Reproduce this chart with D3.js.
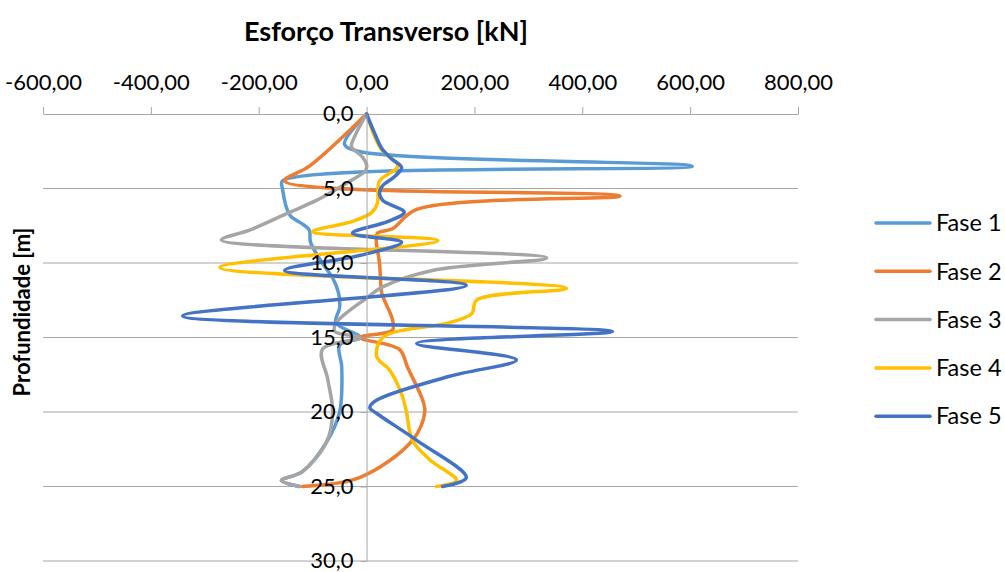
<!DOCTYPE html>
<html>
<head>
<meta charset="utf-8">
<script src="https://cdn.jsdelivr.net/npm/d3@7"></script>
<style>
  body { margin: 0; background: #fff; }
  .chart { width: 1005px; height: 572px; }
  text { font-family: Lato, "Open Sans", sans-serif; fill: #000; }
</style>
</head>
<body>
<div class="chart"></div>
<script>
// shear force [kN] per depth [m], one pair of arrays per phase
const fase1Depth = [0, 2.0, 2.5, 3.5, 4.5, 5.0, 6.8, 7.4, 7.8, 8.6, 10, 11, 12, 13, 14, 15, 15.5, 17, 20, 22, 24, 24.6, 25];
const fase1Shear = [0, -41, -15, 604, -156, -156, -142, -118, -106, -104, -82, -63, -52, -50, -57, -12, -50, -46, -50, -74, -119, -158, -124];

const fase2Depth = [0, 3.5, 4.5, 5.5, 6.4, 7.7, 8.0, 8.5, 10, 12, 12.5, 13.8, 14.5, 15, 15.8, 17, 19.2, 20, 21.9, 24.4, 25];
const fase2Shear = [0, -106, -152, 470, 93, 48, 20, 18, 24, 28, 33, 48, 48, -12, 61, 76, 104, 108, 85, -13, -119];

const fase3Depth = [0, 1.5, 2.2, 2.8, 3.4, 3.8, 4.6, 5.2, 5.8, 6.6, 7.8, 8.45, 9.65, 10.5, 11.6, 12.35, 14, 14.6, 15, 15.8, 17.8, 20, 22, 24, 24.6, 25];
const fase3Shear = [0, -22, -28, -10, 0, -2, -35, -63, -93, -143, -217, -269, 334, 122, 30, 0, -56, -59, -12, -82, -72, -63, -74, -119, -158, -124];

const fase4Depth = [0, 2.3, 3.5, 4.5, 6.0, 6.6, 7.2, 7.9, 8.5, 10.3, 11.7, 12.5, 13.4, 14, 15, 16.3, 17.2, 19, 20, 21.9, 23.2, 24.6, 25];
const fase4Shear = [0, 26, 58, 24, 20, 10, -26, -100, 132, -272, 371, 204, 195, 154, 30, 19, 43, 67, 74, 85, 117, 167, 130];

const fase5Depth = [0, 1.3, 2.3, 3.0, 3.6, 4.2, 4.8, 5.3, 5.8, 6.6, 7.2, 8.0, 8.6, 9.5, 10.5, 11.5, 13.55, 14.6, 15.4, 16.5, 17.6, 19.2, 19.7, 20.1, 21.9, 24.4, 25];
const fase5Shear = [0, 15, 28, 46, 65, 52, 30, 24, 30, 70, 40, -26, 65, -13, -152, 185, -341, 456, 93, 278, 154, 19, 6, 19, 93, 185, 141];

const seriesNames = ['Fase 1', 'Fase 2', 'Fase 3', 'Fase 4', 'Fase 5'];
const seriesColors = ['#5b9bd5', '#ed7d31', '#a5a5a5', '#ffc000', '#4472c4'];

const xTicks = [-600, -400, -200, 0, 200, 400, 600, 800];
const xTickLabels = ['-600,00', '-400,00', '-200,00', '0,00', '200,00', '400,00', '600,00', '800,00'];
const yTicks = [0, 5, 10, 15, 20, 25, 30];
const yTickLabels = ['0,0', '5,0', '10,0', '15,0', '20,0', '25,0', '30,0'];

const series = [
  { depth: fase1Depth, shear: fase1Shear },
  { depth: fase2Depth, shear: fase2Shear },
  { depth: fase3Depth, shear: fase3Shear },
  { depth: fase4Depth, shear: fase4Shear },
  { depth: fase5Depth, shear: fase5Shear }
].map((s, i) => ({
  name: seriesNames[i],
  color: seriesColors[i],
  points: s.depth.map((d, j) => ({ depth: d, shear: s.shear[j] }))
}));

const svg = d3.select('.chart')
  .append('svg')
  .attr('width', 1005)
  .attr('height', 572);

const plot = { left: 43, right: 798, top: 114, bottom: 561 };
const fontSize = 22;
const gridColor = '#a6a6a6';

const xScale = d3.scaleLinear()
  .domain([-600, 800])
  .range([plot.left, plot.right]);

const yScale = d3.scaleLinear()
  .domain([0, 30])
  .range([plot.top, plot.bottom]);

// horizontal gridlines
svg.append('g')
  .selectAll('line')
  .data(yTicks.slice(1))
  .enter()
  .append('line')
  .attr('x1', plot.left)
  .attr('x2', plot.right)
  .attr('y1', d => yScale(d))
  .attr('y2', d => yScale(d))
  .style('stroke', gridColor)
  .style('stroke-width', 1);

// top axis
const xAxis = d3.axisTop(xScale)
  .tickValues(xTicks)
  .tickFormat((d, i) => xTickLabels[i])
  .tickSize(7)
  .tickSizeOuter(0)
  .tickPadding(17);

const xAxisG = svg.append('g')
  .attr('transform', `translate(0, ${plot.top})`)
  .call(xAxis);
xAxisG.select('.domain').style('stroke', gridColor);
xAxisG.selectAll('.tick line').style('stroke', gridColor);
xAxisG.selectAll('.tick text')
  .style('font-size', fontSize + 'px')
  .style('font-family', 'Lato, sans-serif');

const line = d3.line()
  .x(d => xScale(d.shear))
  .y(d => yScale(d.depth))
  .curve(d3.curveCatmullRom.alpha(0.5));

svg.append('g')
  .selectAll('path')
  .data(series)
  .enter()
  .append('path')
  .attr('d', d => line(d.points))
  .style('fill', 'none')
  .style('stroke', d => d.color)
  .style('stroke-width', 3.5)
  .style('stroke-linejoin', 'round')
  .style('stroke-linecap', 'round');

// vertical axis through zero
const yAxis = d3.axisLeft(yScale)
  .tickValues(yTicks)
  .tickFormat((d, i) => yTickLabels[i])
  .tickSize(6)
  .tickSizeOuter(0)
  .tickPadding(7);

const yAxisG = svg.append('g')
  .attr('transform', `translate(${xScale(0)}, 0)`)
  .call(yAxis);
yAxisG.select('.domain').style('stroke', gridColor);
yAxisG.selectAll('.tick line').style('stroke', gridColor);
yAxisG.selectAll('.tick text')
  .style('font-size', fontSize + 'px')
  .style('font-family', 'Lato, sans-serif');
yAxisG.selectAll('.tick text').attr('dy', '0.3em');

// titles
svg.append('text')
  .attr('x', 386)
  .attr('y', 41)
  .attr('text-anchor', 'middle')
  .style('font-size', '27px')
  .style('font-weight', 'bold')
  .text('Esforço Transverso [kN]');

svg.append('text')
  .attr('transform', 'translate(30, 312) rotate(-90)')
  .attr('text-anchor', 'middle')
  .style('font-size', '22px')
  .style('font-weight', 'bold')
  .text('Profundidade [m]');

// legend
const legend = svg.append('g')
  .selectAll('.legend-item')
  .data(series)
  .enter()
  .append('g')
  .classed('legend-item', true)
  .attr('transform', (d, i) => `translate(876, ${223 + i * 48.3})`);

legend.append('line')
  .attr('x1', 0)
  .attr('x2', 54)
  .style('stroke', d => d.color)
  .style('stroke-width', 3.5)
  .style('stroke-linecap', 'round');

legend.append('text')
  .attr('x', 60)
  .attr('dy', '0.35em')
  .style('font-size', '23.5px')
  .text(d => d.name);
</script>
</body>
</html>
